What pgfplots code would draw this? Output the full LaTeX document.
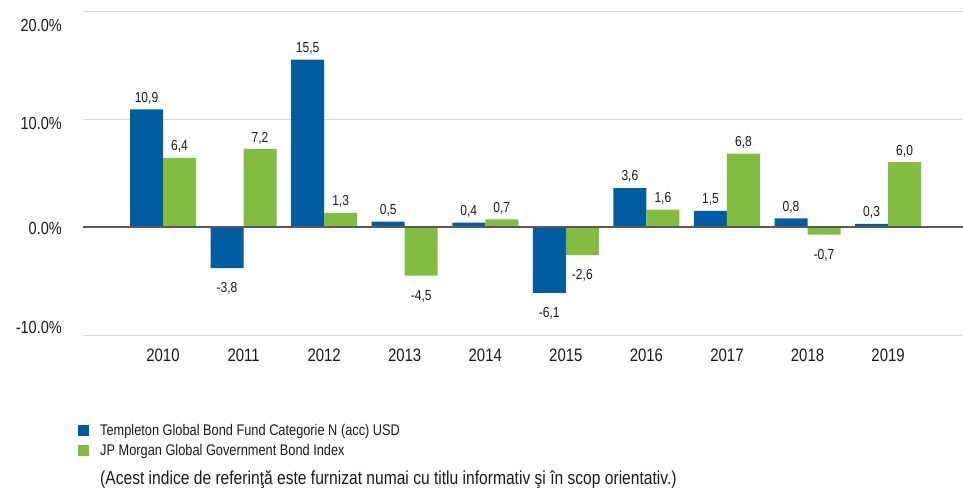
\documentclass[border=0pt]{standalone}
\usepackage{fontspec}
\setmainfont{Liberation Sans}[FakeStretch=0.83]
\usepackage{pgfplots}
\pgfplotsset{compat=1.18}
\definecolor{tblue}{RGB}{0,93,162}
\definecolor{tgreen}{RGB}{128,189,65}
\definecolor{gridc}{RGB}{217,217,217}
\definecolor{zeroc}{RGB}{89,89,89}
\definecolor{txt}{RGB}{26,26,26}
\begin{document}
\begin{tikzpicture}[x=1pt,y=1pt]
\path[use as bounding box] (0,0) rectangle (963,488);
\begin{axis}[
  at={(83pt,153pt)}, anchor=south west,
  scale only axis, width=880pt, height=324pt,
  xmin=-0.993, xmax=9.93, ymin=-10, ymax=20,
  ybar=0pt, bar width=33pt,
  axis line style={draw=none},
  major tick length=0pt,
  xtick={0,1,2,3,4,5,6,7,8,9},
  xticklabels={2010,2011,2012,2013,2014,2015,2016,2017,2018,2019},
  ytick={-10,0,10,20},
  yticklabels={\raisebox{1.3pt}{-10.0\%},\raisebox{-7.3pt}{0.0\%},\raisebox{-10.3pt}{10.0\%},\raisebox{-20.3pt}{20.0\%}},
  ymajorgrids, grid style={gridc, line width=1pt},
  xticklabel style={font=\fontsize{18}{20}\selectfont, text=txt, inner sep=0pt, anchor=north, yshift=-14pt},
  yticklabel style={font=\fontsize{17.5}{20}\selectfont, text=txt, inner sep=0pt, anchor=base east, xshift=-21pt},
  /pgf/number format/.cd, use comma, fixed, fixed zerofill, precision=1, assume math mode=true, 1000 sep={},
  /pgfplots/.cd,
  nodes near coords={\rule[-7pt]{0pt}{31.4pt}\pgfmathprintnumber{\pgfplotspointmeta}},
  every node near coord/.append style={font=\fontsize{14.5}{16}\selectfont, text=txt, inner sep=0pt},
  legend style={at={(axis description cs:-0.0057,-0.2747)}, anchor=north west, draw=none, fill=none,
    inner sep=0pt, font=\fontsize{15.4}{17}\selectfont, text=txt, row sep=7pt,
    nodes={inner sep=0pt},
    /tikz/every odd column/.style={column sep=11pt}},
  legend cell align=left,
]
\addplot[fill=tblue, draw=none,
  legend image code/.code={\fill[tblue] (0pt,-5.5pt) rectangle (11pt,5.5pt);}]
  coordinates {(0,10.9) (1,-3.8) (2,15.5) (3,0.5) (4,0.4)
               (5,-6.1) (6,3.6) (7,1.5) (8,0.8) (9,0.3)};
\addlegendentry{Templeton Global Bond Fund Categorie N (acc) USD}
\addplot[fill=tgreen, draw=none,
  legend image code/.code={\fill[tgreen] (0pt,-5.5pt) rectangle (11pt,5.5pt);}]
  coordinates {(0,6.4) (1,7.2) (2,1.3) (3,-4.5) (4,0.7)
               (5,-2.6) (6,1.6) (7,6.8) (8,-0.7) (9,6.0)};
\addlegendentry{JP Morgan Global Government Bond Index}
\draw[zeroc, line width=1.2pt] ({rel axis cs:0,0} |- {axis cs:0,0}) -- ({rel axis cs:1,0} |- {axis cs:0,0});
\end{axis}
\node[anchor=base west, inner sep=0pt, font=\fontsize{18.8}{20}\selectfont, text=txt] at (100,4)
  {(Acest indice de referinţă este furnizat numai cu titlu informativ şi în scop orientativ.)};
\end{tikzpicture}
\end{document}
